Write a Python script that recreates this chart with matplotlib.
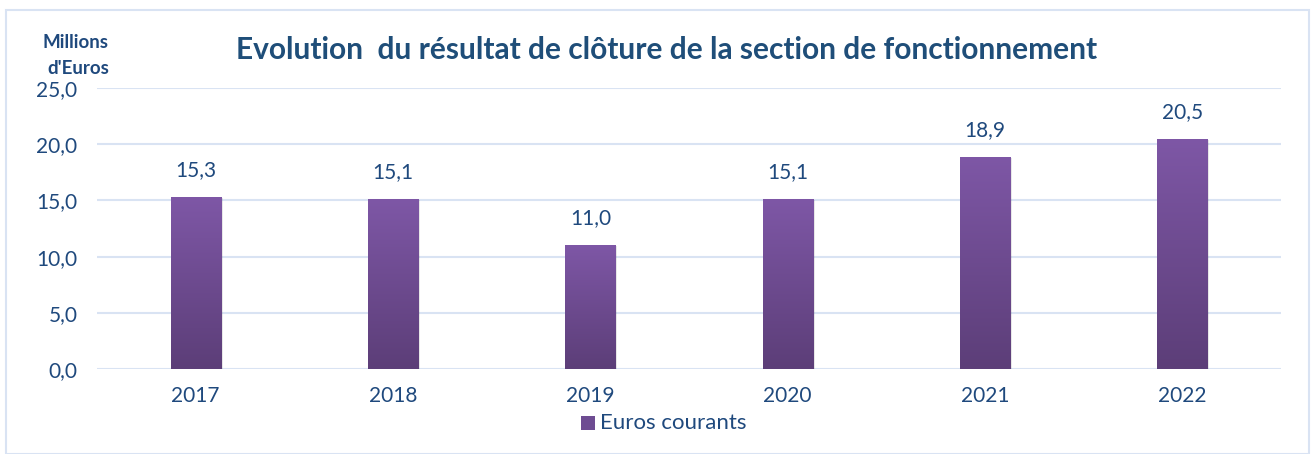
import matplotlib
matplotlib.use("Agg")
import matplotlib.pyplot as plt
import numpy as np
from matplotlib.patches import Rectangle
from matplotlib.colors import LinearSegmentedColormap

years = ["2017", "2018", "2019", "2020", "2021", "2022"]
values = [15.3, 15.1, 11.0, 15.1, 18.9, 20.5]
labels = ["15,3", "15,1", "11,0", "15,1", "18,9", "20,5"]
yticks = [0, 5, 10, 15, 20, 25]
ytick_labels = ["0,0", "5,0", "10,0", "15,0", "20,0", "25,0"]
series_name = "Euros courants"
title = "Evolution  du résultat de clôture de la section de fonctionnement"

plt.rcParams['font.family'] = ['Lato', 'DejaVu Sans']
txt = "#1F497D"
grid_c = "#D9E3F3"

W, H = 1311, 454
fig = plt.figure(figsize=(W/100, H/100), dpi=100)
ax = fig.add_axes([97/W, 1-369/H, (1281-97)/W, (369-88)/H])

cmap = LinearSegmentedColormap.from_list("g", ["#5C3E78", "#7E57A6"])
x = np.arange(len(years))
bw = 0.255
ax.set_xlim(-0.5, len(years)-0.5)
ax.set_ylim(0, 25)
grad = np.linspace(0, 1, 256).reshape(-1, 1)
for xi, v, lab in zip(x, values, labels):
    ax.add_patch(Rectangle((xi-bw/2+0.01, -0.1), bw, v, facecolor="#00000018", edgecolor="none", zorder=2))
    rect = Rectangle((xi-bw/2, 0), bw, v, facecolor="none", edgecolor="none", zorder=3)
    ax.add_patch(rect)
    im = ax.imshow(grad, extent=(xi-bw/2, xi+bw/2, 0, v), origin="lower", cmap=cmap,
                   aspect="auto", zorder=3)
    im.set_clip_path(rect)
    ax.text(xi, v + 1.5, lab, ha="center", va="bottom", fontsize=15, color=txt)

ax.set_yticks(yticks)
ax.set_yticklabels(ytick_labels)
ax.set_xticks(x)
ax.set_xticklabels(years)
ax.tick_params(axis="both", length=0, labelsize=15, labelcolor=txt)
ax.tick_params(axis="x", pad=12)
ax.tick_params(axis="y", pad=14)
ax.yaxis.grid(True, color=grid_c, linewidth=1.5, zorder=0)
ax.set_axisbelow(True)
for s in ax.spines.values():
    s.set_visible(False)

fig.text(667/W, 1-50/H, title, ha="center", va="center", fontsize=21.5, fontweight="bold", color="#1F4E79")
fig.text(76/W, 1-42/H, "Millions", ha="center", va="center", fontsize=13.5, fontweight="bold", color=txt)
fig.text(78/W, 1-68/H, "d'Euros", ha="center", va="center", fontsize=13.5, fontweight="bold", color=txt)

# legend
fig.patches.append(Rectangle((581/W, 1-430/H), 14/W, 14/H, transform=fig.transFigure,
                             facecolor="#6E4C92", edgecolor="none"))
fig.text(600/W, 1-423/H, series_name, ha="left", va="center", fontsize=16, color=txt)

# outer frame
fig.patches.append(Rectangle((6/W, 0), (W-8)/W, 1-10/H, transform=fig.transFigure,
                             facecolor="none", edgecolor=grid_c, linewidth=1.5))

fig.savefig("out.png", dpi=100)
